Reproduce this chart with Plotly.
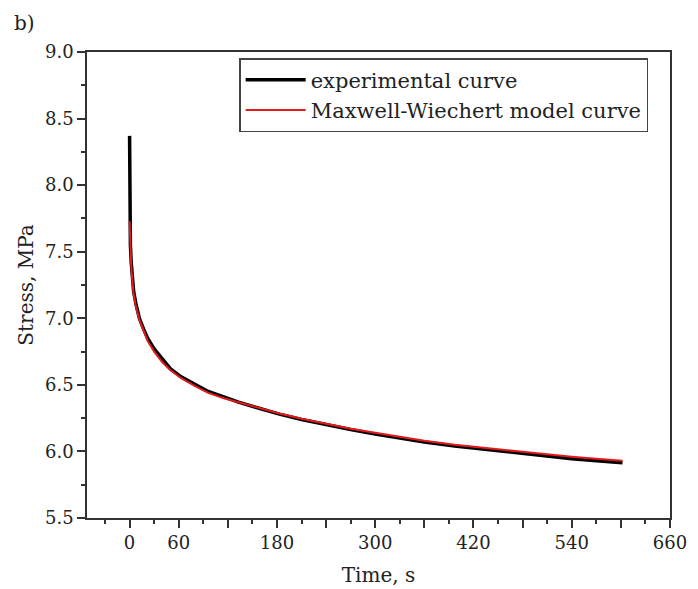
import plotly.graph_objects as go

# Experimental curve (black)
exp_t = [0, 0, 0.6, 1, 2, 3, 5, 8, 12, 17, 22, 30, 40, 50, 63, 80, 96, 115, 133, 155,
         183, 210, 240, 270, 300, 330, 360, 397, 420, 450, 478, 510, 540, 570, 602]
exp_v = [8.37, 7.85, 7.72, 7.55, 7.42, 7.33, 7.20, 7.10, 7.00, 6.92, 6.85, 6.77, 6.69, 6.62,
         6.56, 6.50, 6.45, 6.41, 6.37, 6.33, 6.28, 6.24, 6.20, 6.165, 6.13, 6.10, 6.07, 6.04,
         6.025, 6.005, 5.985, 5.96, 5.945, 5.93, 5.915]

# Maxwell-Wiechert model curve (red)
mod_t = [0, 1, 2, 3, 5, 8, 12, 17, 22, 30, 40, 50, 63, 80, 96, 115, 133, 155,
         183, 210, 240, 270, 300, 330, 360, 397, 420, 450, 478, 510, 540, 570, 602]
mod_v = [7.73, 7.52, 7.40, 7.31, 7.18, 7.08, 6.99, 6.91, 6.83, 6.75, 6.67, 6.61, 6.55, 6.49,
         6.44, 6.40, 6.37, 6.33, 6.285, 6.245, 6.205, 6.17, 6.14, 6.11, 6.08, 6.05, 6.035,
         6.015, 5.995, 5.975, 5.96, 5.945, 5.93]

x_tickvals = [0, 60, 120, 180, 240, 300, 360, 420, 480, 540, 600, 660]
x_ticktext = ["0", "60", "", "180", "", "300", "", "420", "", "540", "", "660"]
x_minor = [-30, 30, 90, 150, 210, 270, 330, 390, 450, 510, 570, 630]
y_tickvals = [5.5, 6.0, 6.5, 7.0, 7.5, 8.0, 8.5, 9.0]
y_minor = [5.75, 6.25, 6.75, 7.25, 7.75, 8.25, 8.75]

FONT = "DejaVu Serif"
AX = "#333333"

fig = go.Figure()
fig.add_trace(go.Scatter(x=exp_t, y=exp_v, mode="lines", name="experimental curve",
                         line=dict(color="black", width=3.5)))
fig.add_trace(go.Scatter(x=mod_t, y=mod_v, mode="lines", name="Maxwell-Wiechert model curve",
                         line=dict(color="#e41a1c", width=2)))

axis_common = dict(showline=True, linecolor=AX, linewidth=1.5, mirror=True,
                   ticks="outside", tickcolor=AX, tickwidth=2, ticklen=8,
                   showgrid=False, zeroline=False, automargin=False,
                   tickfont=dict(family=FONT, size=18, color="#222"))

fig.update_xaxes(range=[-52, 660], tickmode="array", tickvals=x_tickvals, ticktext=x_ticktext,
                 minor=dict(tickmode="array", tickvals=x_minor, ticks="outside", ticklen=4,
                            tickwidth=2, tickcolor=AX),
                 title=dict(text="Time, s", font=dict(family=FONT, size=20, color="#222"),
                            standoff=16),
                 **axis_common)
fig.update_yaxes(range=[5.5, 9.0], tickmode="array", tickvals=y_tickvals, tickformat=".1f",
                 minor=dict(tickmode="array", tickvals=y_minor, ticks="outside", ticklen=4,
                            tickwidth=2, tickcolor=AX),
                 title=dict(text="Stress, MPa", font=dict(family=FONT, size=20, color="#222"),
                            standoff=6),
                 **axis_common)

# page body has an 8px margin, so the figure is drawn 8px in from the window edge
fig.update_layout(
    width=690, height=581,
    margin=dict(l=79, r=28, t=44, b=71),
    plot_bgcolor="white", paper_bgcolor="white",
    font=dict(family=FONT, color="#222"),
    showlegend=True,
    legend=dict(x=0.261, y=0.987, xanchor="left", yanchor="top",
                bordercolor="#444", borderwidth=1.5, bgcolor="white",
                font=dict(family=FONT, size=21, color="#222"),
                itemwidth=60, tracegroupgap=0),
    annotations=[dict(text="b)", xref="paper", yref="paper", x=-0.128, y=1.092,
                      xanchor="left", yanchor="top", showarrow=False,
                      font=dict(family=FONT, size=20, color="#222"))],
)

fig.write_html("out.html")
